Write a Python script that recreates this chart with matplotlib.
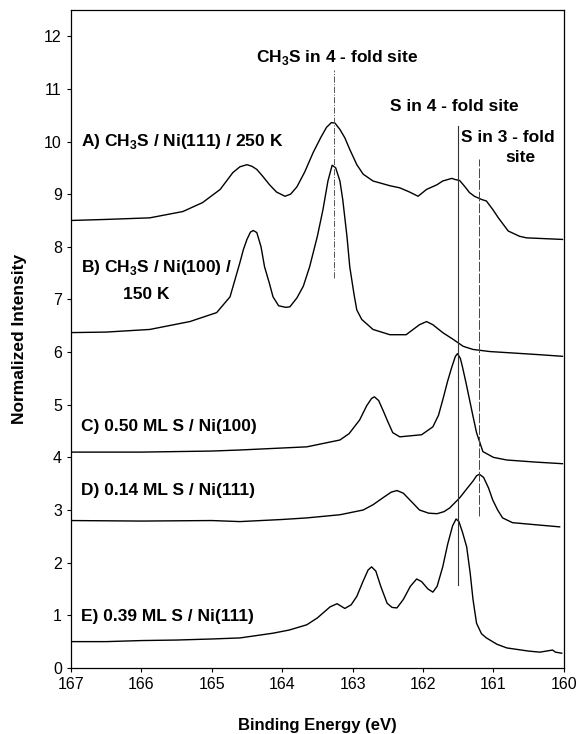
import matplotlib
matplotlib.use('Agg')
import matplotlib.pyplot as plt

plt.rcParams['font.family'] = ['Liberation Sans', 'DejaVu Sans']
plt.rcParams['mathtext.fontset'] = 'custom'
plt.rcParams['mathtext.rm'] = 'Liberation Sans'
plt.rcParams['mathtext.bf'] = 'Liberation Sans:bold'

# Спектры (энергия связи, интенсивность)
a_e = [167.0, 166.5, 165.88, 165.41, 165.13, 164.88, 164.70, 164.60, 164.50, 164.43, 164.36,
       164.27, 164.18, 164.08, 163.96, 163.88, 163.79, 163.68, 163.56, 163.45, 163.37, 163.30,
       163.25, 163.18, 163.11, 163.04, 162.94, 162.85, 162.71, 162.47, 162.33, 162.19, 162.07,
       161.95, 161.80, 161.72, 161.59, 161.55, 161.48, 161.41, 161.34, 161.27, 161.17, 161.10,
       161.01, 160.93, 160.79, 160.63, 160.53, 160.02]
a_i = [8.50, 8.52, 8.55, 8.67, 8.84, 9.09, 9.41, 9.52, 9.56, 9.53, 9.47,
       9.33, 9.18, 9.04, 8.96, 9.00, 9.14, 9.42, 9.79, 10.08, 10.27, 10.36,
       10.35, 10.23, 10.07, 9.85, 9.56, 9.38, 9.25, 9.16, 9.12, 9.04, 8.96,
       9.09, 9.18, 9.25, 9.30, 9.28, 9.26, 9.15, 9.03, 8.96, 8.90, 8.87,
       8.71, 8.55, 8.30, 8.20, 8.17, 8.14]

b_e = [167.0, 166.5, 165.88, 165.31, 164.93, 164.74, 164.60, 164.55, 164.50, 164.45, 164.41,
       164.36, 164.30, 164.25, 164.18, 164.13, 164.05, 163.95, 163.89, 163.79, 163.70, 163.61,
       163.50, 163.42, 163.35, 163.29, 163.24, 163.18, 163.14, 163.08, 163.04, 162.98, 162.94,
       162.87, 162.71, 162.47, 162.24, 162.05, 161.95, 161.86, 161.72, 161.57, 161.43, 161.29,
       161.05, 160.81, 160.34, 160.02]
b_i = [6.37, 6.38, 6.43, 6.58, 6.75, 7.05, 7.70, 7.95, 8.14, 8.28, 8.31,
       8.27, 8.00, 7.62, 7.30, 7.05, 6.88, 6.85, 6.86, 7.03, 7.25, 7.62,
       8.20, 8.71, 9.25, 9.55, 9.50, 9.25, 8.90, 8.20, 7.62, 7.10, 6.80,
       6.62, 6.43, 6.33, 6.33, 6.52, 6.58, 6.52, 6.37, 6.24, 6.11, 6.05,
       6.01, 5.99, 5.95, 5.92]

c_e = [167.0, 166.0, 165.0, 164.6, 163.65, 163.18, 163.05, 162.90, 162.80, 162.73, 162.69,
       162.63, 162.57, 162.50, 162.43, 162.33, 162.02, 161.86, 161.78, 161.72, 161.65, 161.59,
       161.54, 161.51, 161.47, 161.44, 161.39, 161.34, 161.29, 161.24, 161.15, 161.0, 160.81,
       160.4, 160.02]
c_i = [4.10, 4.10, 4.12, 4.14, 4.20, 4.33, 4.45, 4.71, 4.98, 5.12, 5.15,
       5.08, 4.90, 4.68, 4.47, 4.39, 4.43, 4.58, 4.80, 5.09, 5.45, 5.72,
       5.92, 5.97, 5.88, 5.72, 5.42, 5.10, 4.78, 4.47, 4.11, 4.00, 3.95,
       3.91, 3.88]

d_e = [167.0, 166.0, 165.0, 164.6, 164.0, 163.65, 163.18, 162.85, 162.71, 162.55, 162.45,
       162.37, 162.28, 162.15, 162.05, 161.92, 161.80, 161.70, 161.62, 161.48, 161.38, 161.29,
       161.24, 161.20, 161.14, 161.07, 161.01, 160.94, 160.87, 160.73, 160.4, 160.06]
d_i = [2.80, 2.79, 2.80, 2.78, 2.82, 2.85, 2.91, 3.00, 3.10, 3.25, 3.34,
       3.37, 3.32, 3.14, 3.00, 2.94, 2.93, 2.97, 3.04, 3.23, 3.40, 3.55,
       3.65, 3.68, 3.62, 3.42, 3.19, 3.00, 2.85, 2.76, 2.72, 2.68]

e_e = [167.0, 166.5, 166.0, 165.5, 165.0, 164.6, 164.13, 163.9, 163.65, 163.5, 163.32,
       163.22, 163.11, 163.02, 162.94, 162.85, 162.78, 162.73, 162.67, 162.60, 162.51, 162.44,
       162.37, 162.28, 162.18, 162.09, 162.02, 161.93, 161.86, 161.80, 161.72, 161.65, 161.58,
       161.53, 161.49, 161.44, 161.38, 161.33, 161.29, 161.24, 161.17, 161.10, 160.95, 160.81,
       160.5, 160.34, 160.16, 160.12, 160.03]
e_i = [0.50, 0.50, 0.52, 0.53, 0.55, 0.57, 0.66, 0.72, 0.82, 0.95, 1.16,
       1.22, 1.13, 1.20, 1.36, 1.65, 1.86, 1.92, 1.84, 1.55, 1.23, 1.15,
       1.14, 1.30, 1.55, 1.69, 1.64, 1.50, 1.44, 1.55, 1.92, 2.35, 2.70,
       2.83, 2.78, 2.58, 2.30, 1.80, 1.30, 0.85, 0.65, 0.57, 0.45, 0.38,
       0.32, 0.30, 0.34, 0.30, 0.28]

spectra = [(a_e, a_i), (b_e, b_i), (c_e, c_i), (d_e, d_i), (e_e, e_i)]

fig = plt.figure(figsize=(5.81, 7.34), dpi=100)
ax = fig.add_axes([0.122, 0.09, 0.8485, 0.8965])

for en, inten in spectra:
    ax.plot(en, inten, color='black', lw=1.0)

# Линии положений пиков
ax.plot([163.27, 163.27], [7.4, 11.35], color='#555555', lw=0.7, ls='-.')
ax.plot([161.51, 161.51], [1.58, 10.3], color='#333333', lw=0.8)
ax.plot([161.21, 161.21], [2.88, 9.66], color='#444444', lw=0.7, ls=(0, (10, 2)))

fs = 12.5
kw = dict(fontsize=fs, fontweight='bold', va='center')
ax.text(166.85, 10.0, r'A) CH$_\mathbf{3}$S / Ni(111) / 250 K', **kw)
ax.text(166.85, 7.6, r'B) CH$_\mathbf{3}$S / Ni(100) /', **kw)
ax.text(166.26, 7.1, '150 K', **kw)
ax.text(166.85, 4.58, 'C) 0.50 ML S / Ni(100)', **kw)
ax.text(166.85, 3.38, 'D) 0.14 ML S / Ni(111)', **kw)
ax.text(166.85, 0.98, 'E) 0.39 ML S / Ni(111)', **kw)
ax.text(163.22, 11.6, r'CH$_\mathbf{3}$S in 4 - fold site', ha='center', **kw)
ax.text(161.56, 10.67, 'S in 4 - fold site', ha='center', **kw)
ax.text(161.46, 10.07, 'S in 3 - fold', ha='left', **kw)
ax.text(160.62, 9.69, 'site', ha='center', **kw)

ax.set_xlim(167, 160)
ax.set_ylim(0, 12.5)
ax.set_xticks(range(167, 159, -1))
ax.set_yticks(range(0, 13))
ax.tick_params(direction='out', length=3, width=0.8, labelsize=11.5)
ax.set_xlabel('Binding Energy (eV)', fontsize=12, fontweight='bold', labelpad=19)
ax.set_ylabel('Normalized Intensity', fontsize=12.5, fontweight='bold', labelpad=12)
for s in ax.spines.values():
    s.set_linewidth(0.9)

fig.savefig('out.png', dpi=100)
